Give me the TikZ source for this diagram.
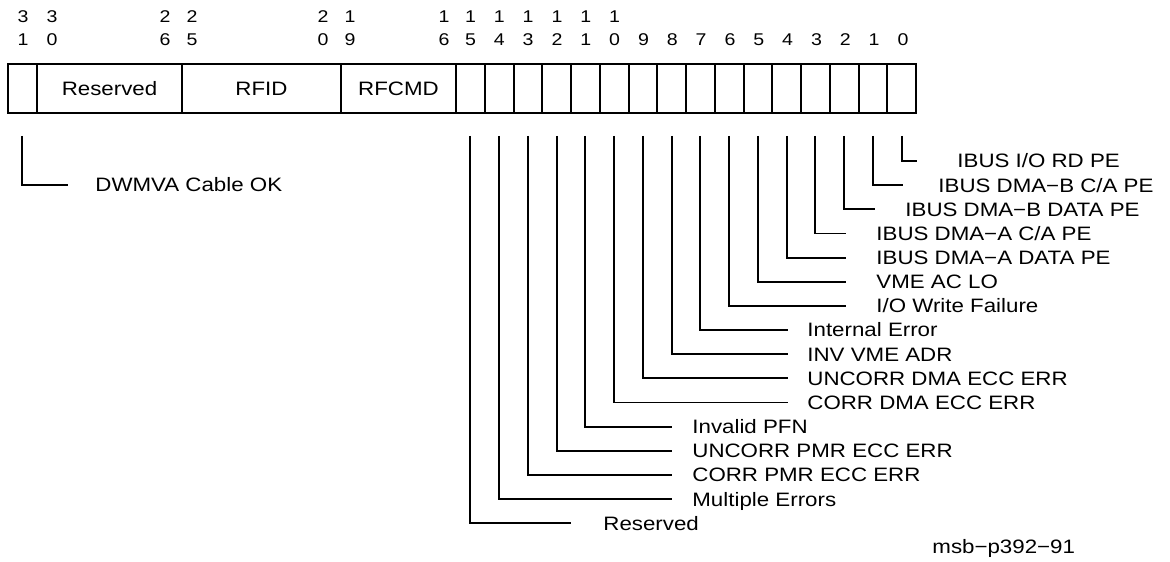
\documentclass[tikz,border=0pt]{standalone}
\usepackage{fontspec}
\setmainfont{Liberation Sans}[FakeStretch=1.15]
\usetikzlibrary{calc}

\begin{document}
\begin{tikzpicture}[
    x=0.5pt, y=-0.5pt,
    font=\fontsize{9.7}{11}\selectfont,
    cell/.style={draw, line width=1pt, minimum height=24.5pt, outer sep=0pt, inner sep=0pt, anchor=west},
    bitnum/.style={font=\fontsize{8.5}{11.3}\selectfont, align=center, inner sep=0pt, anchor=south},
    lbl/.style={inner sep=0pt, anchor=base west},
    lead/.style={line width=0.9pt}
]
    \useasboundingbox (0,0) rectangle (1170,561);

    % --- Register fields ---
    \node[cell, minimum width=14.7pt] (c31) at (7.5,88.5) {};
    \node[cell, minimum width=72.6pt] (resv) at (c31.east) {Reserved};
    \node[cell, minimum width=79.4pt] (rfid) at (resv.east) {RFID};
    \node[cell, minimum width=57.6pt] (rfcmd) at (rfid.east) {RFCMD};
    \foreach \b in {15,...,0}
        \node[cell, minimum width=14.375pt] (c\b) at (456+28.75*15-28.75*\b,88.5) {};

    % --- Bit numbers above the box ---
    \node[bitnum] (n31) at (23,46) {3\\1};
    \node[bitnum] (n30) at (52,46) {3\\0};
    \node[bitnum] (n26) at (165,46) {2\\6};
    \node[bitnum] (n25) at (192,46) {2\\5};
    \node[bitnum] (n20) at (323,46) {2\\0};
    \node[bitnum] (n19) at (350,46) {1\\9};
    \node[bitnum] (n16) at (444,46) {1\\6};
    \foreach \b in {15,...,10} {
        \pgfmathtruncatemacro{\lo}{\b-10}
        \node[bitnum] (n\b) at (470.5+28.83*15-28.83*\b,46) {1\\\lo};
    }
    \foreach \b in {9,...,0}
        \node[bitnum] (n\b) at (470.5+28.83*15-28.83*\b,46) {\b};

    % --- Bit 31 ---
    \coordinate (e31) at (67.7,185);
    \node[lbl] (l31) at (95,191.8) {DWMVA Cable OK};
    \draw[lead] ([yshift=-11.5pt]c31.south) |- (e31);

    % --- Bits 15..0 (line end x / text x / text) ---
    \foreach \b/\ex/\tx/\txt in {
        0/917/957/{IBUS I/O RD PE},
        1/903/938/{IBUS DMA−B C/A PE},
        2/875/905/{IBUS DMA−B DATA PE},
        3/846/876/{IBUS DMA−A C/A PE},
        4/846/876/{IBUS DMA−A DATA PE},
        5/846/876/{VME AC LO},
        6/846/876/{I/O Write Failure},
        7/788/807/{Internal Error},
        8/788/807/{INV VME ADR},
        9/788/807/{UNCORR DMA ECC ERR},
        10/788/807/{CORR DMA ECC ERR},
        11/672/692/{Invalid PFN},
        12/672/692/{UNCORR PMR ECC ERR},
        13/672/692/{CORR PMR ECC ERR},
        14/672/692/{Multiple Errors},
        15/571/603/{Reserved}} {
        \coordinate (e\b) at (\ex,161+24.15*\b);
        \node[lbl] (l\b) at (\tx,167.9+24.15*\b) {\txt};
        \draw[lead] ([yshift=-11.5pt]c\b.south) |- (e\b);
    }

    % --- Figure tag ---
    \node[lbl] (tag) at (932,553.5) {msb−p392−91};

\end{tikzpicture}
\end{document}
